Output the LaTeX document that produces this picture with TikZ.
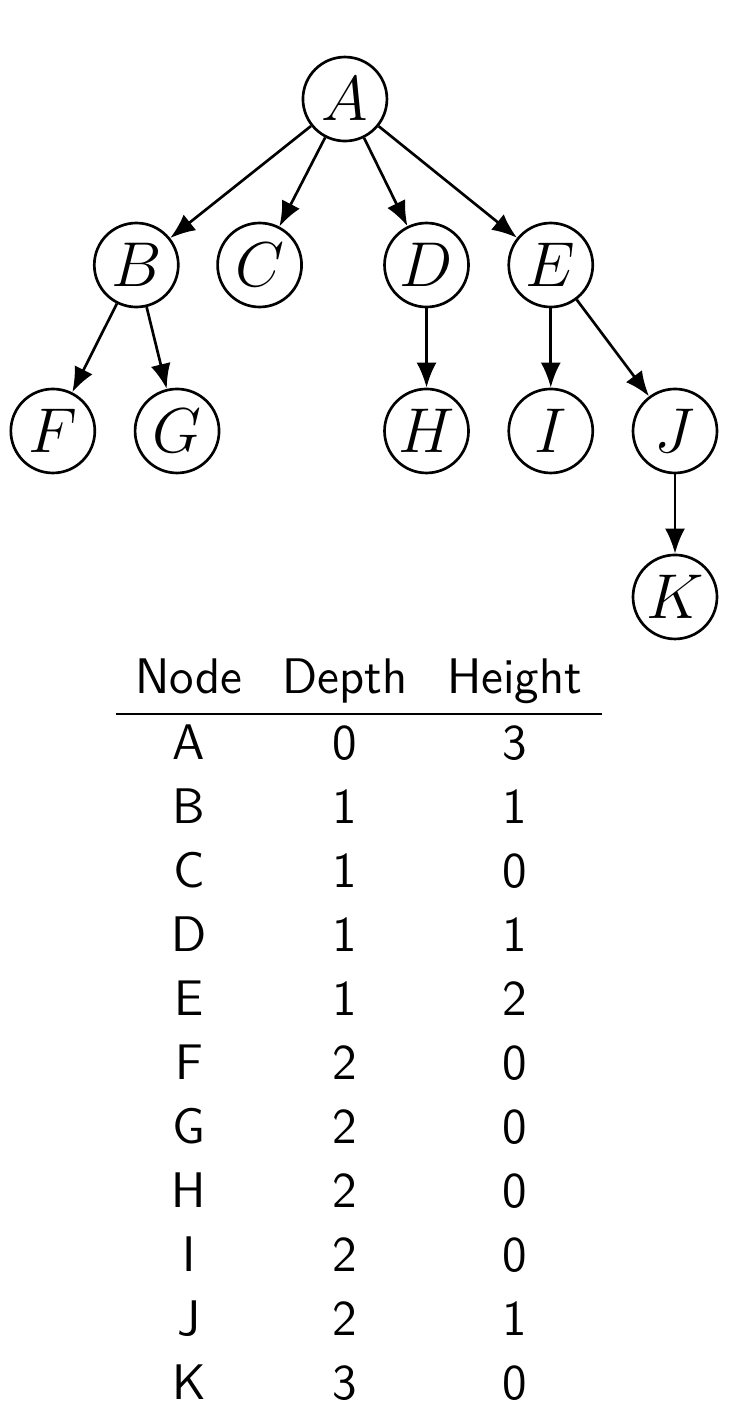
\RequirePackage{fix-cm}
\documentclass[tikz,border=0pt]{standalone}
\usepackage{tikz}
\usetikzlibrary{arrows.meta, positioning}
\setlength{\arrayrulewidth}{0.6pt}
\tikzstyle{vertex} = [circle, draw=black, thick, minimum size=25.2pt, inner sep=0pt, font=\fontsize{19}{22}\selectfont]
\tikzstyle{arrow} = [thick, -{Latex[length=7.5pt, width=6pt]}]

\begin{document}
\begin{tikzpicture}[on grid, node distance=1.75cm]
  \useasboundingbox (0,0) rectangle (7.844,-14.993);
  \node[vertex] (A) at (3.637,-1.044) {$A$};
  \node[vertex, below left=1.75cm and 2.2cm of A] (B) {$B$};
  \node[vertex, below left=1.75cm and 0.9cm of A] (C) {$C$};
  \node[vertex, below right=1.75cm and 0.86cm of A] (D) {$D$};
  \node[vertex, below right=1.75cm and 2.17cm of A] (E) {$E$};
  \node[vertex, below left=1.75cm and 0.88cm of B] (F) {$F$};
  \node[vertex, below right=1.75cm and 0.43cm of B] (G) {$G$};
  \node[vertex, below=of D] (H) {$H$};
  \node[vertex, below=of E] (I) {$I$};
  \node[vertex, below right=1.75cm and 1.31cm of E] (J) {$J$};
  \node[vertex, below=of J] (K) {$K$};

  \draw[arrow] (A) -- (B);
  \draw[arrow] (A) -- (C);
  \draw[arrow] (A) -- (D);
  \draw[arrow] (A) -- (E);
  \draw[arrow] (B) -- (F);
  \draw[arrow] (B) -- (G);
  \draw[arrow] (D) -- (H);
  \draw[arrow] (E) -- (I);
  \draw[arrow] (E) -- (J);
  \draw[arrow] (J) -- (K);

  % depth / height table
  \node[anchor=north west, inner sep=0pt, font=\fontsize{15}{19.2}\selectfont\sffamily] (tab) at (1.212,-6.832) {%
    \begin{tabular}{ccc}
      Node & Depth & Height \\ \hline
      A & 0 & 3 \\
      B & 1 & 1 \\
      C & 1 & 0 \\
      D & 1 & 1 \\
      E & 1 & 2 \\
      F & 2 & 0 \\
      G & 2 & 0 \\
      H & 2 & 0 \\
      I & 2 & 0 \\
      J & 2 & 1 \\
      K & 3 & 0
    \end{tabular}};
\end{tikzpicture}
\end{document}
